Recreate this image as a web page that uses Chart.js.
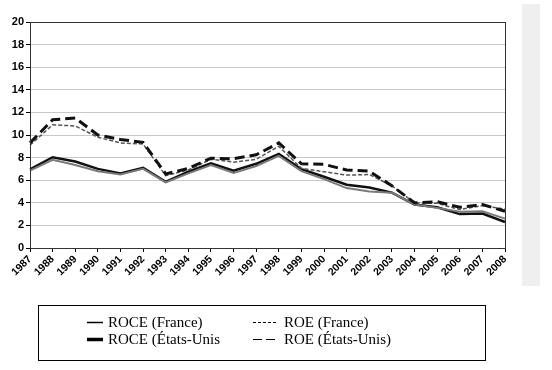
<!DOCTYPE html>
<html>
<head>
<meta charset="utf-8">
<script src="https://cdn.jsdelivr.net/npm/chart.js@4/dist/chart.umd.min.js"></script>
<style>
  html, body { margin: 0; padding: 0; background: #fff; }
  #wrap { position: relative; width: 552px; height: 370px; overflow: hidden; }
  #panel { position: absolute; left: 522px; top: 4px; width: 18px; height: 282px; background: #efefef; }
  #c { position: absolute; left: 0; top: 0; }
  #legend { position: absolute; left: 38px; top: 305px; width: 446px; height: 54px; border: 1px solid #000;
            font-family: 'Liberation Serif', 'Times New Roman', serif; font-size: 15px; color: #000; }
  .item { position: absolute; height: 17px; line-height: 17px; white-space: nowrap; }
  .item svg { position: absolute; top: 0; }
  .item span { position: absolute; top: 0; }
</style>
</head>
<body>
<div id="wrap">
  <div id="panel"></div>
  <canvas id="c" width="552" height="370"></canvas>
  <div id="legend"></div>
</div>
<script>
const years = ['1987','1988','1989','1990','1991','1992','1993','1994','1995','1996','1997','1998','1999','2000','2001','2002','2003','2004','2005','2006','2007','2008'];
const roceFrance = [6.85, 7.8, 7.35, 6.8, 6.5, 7.0, 5.8, 6.6, 7.35, 6.65, 7.25, 8.15, 6.8, 6.1, 5.3, 5.0, 4.9, 3.85, 3.55, 3.2, 3.25, 2.6];
const roeFrance  = [9.1, 10.9, 10.8, 9.8, 9.3, 9.2, 6.4, 6.9, 7.85, 7.6, 7.85, 9.0, 7.05, 6.75, 6.45, 6.5, 5.5, 4.0, 3.95, 3.4, 3.75, 3.45];
const roceUS     = [6.97, 8.03, 7.65, 7.0, 6.6, 7.1, 5.85, 6.75, 7.5, 6.85, 7.45, 8.33, 6.97, 6.3, 5.6, 5.35, 4.9, 3.85, 3.6, 3.0, 3.05, 2.3];
const roeUS      = [9.3, 11.35, 11.5, 10.0, 9.6, 9.35, 6.55, 7.05, 7.95, 7.9, 8.25, 9.3, 7.45, 7.4, 6.9, 6.8, 5.5, 4.0, 4.1, 3.6, 3.85, 3.25];
const yTicks = { min: 0, max: 20, step: 2 };
const seriesLabels = ['ROCE (France)', 'ROE (France)', 'ROCE (États-Unis', 'ROE (États-Unis)'];

const frame = {
  id: 'frame',
  afterDraw(chart) {
    const a = chart.chartArea, ctx = chart.ctx;
    ctx.save();
    ctx.strokeStyle = '#333';
    ctx.lineWidth = 1;
    ctx.strokeRect(Math.round(a.left) + 0.5, Math.round(a.top) + 0.5, Math.round(a.right - a.left), Math.round(a.bottom - a.top));
    ctx.restore();
  }
};

new Chart(document.getElementById('c'), {
  type: 'line',
  data: {
    labels: years,
    datasets: [
      { label: seriesLabels[3], data: roeUS, borderColor: '#111', borderWidth: 3, borderDash: [10, 5], pointRadius: 0, tension: 0, fill: false },
      { label: seriesLabels[1], data: roeFrance, borderColor: '#555', borderWidth: 1.5, borderDash: [4, 2], pointRadius: 0, tension: 0, fill: false },
      { label: seriesLabels[0], data: roceFrance, borderColor: '#7a7a7a', borderWidth: 2, pointRadius: 0, tension: 0, fill: false },
      { label: seriesLabels[2], data: roceUS, borderColor: '#111', borderWidth: 2.5, pointRadius: 0, tension: 0, fill: false }
    ]
  },
  options: {
    responsive: false,
    animation: false,
    layout: { padding: { top: 22, right: 47, bottom: 82, left: 0 } },
    plugins: { legend: { display: false }, tooltip: { enabled: false } },
    scales: {
      x: {
        offset: false,
        afterFit: s => { s.height = 40; },
        grid: { drawOnChartArea: false, drawTicks: true, tickLength: 4, tickColor: '#000' },
        border: { color: '#000', width: 1 },
        ticks: { autoSkip: false, minRotation: 45, maxRotation: 45, padding: 1, color: '#000',
                 font: { family: 'Liberation Sans, Arial, sans-serif', size: 10.5, weight: 'bold' } }
      },
      y: {
        min: yTicks.min, max: yTicks.max,
        afterFit: s => { s.width = 30; },
        grid: { color: '#c8c8c8', lineWidth: 1, drawTicks: true, tickLength: 4, tickColor: '#000' },
        border: { color: '#000', width: 1 },
        ticks: { stepSize: yTicks.step, padding: 2, color: '#000',
                 font: { family: 'Liberation Sans, Arial, sans-serif', size: 11, weight: 'bold' } }
      }
    }
  },
  plugins: [frame]
});

// HTML legend
const legend = document.getElementById('legend');
const items = [
  { text: seriesLabels[0], x: 48, y: 8, w: 16, lw: 1.5, dash: null, tx: 69 },
  { text: seriesLabels[1], x: 214, y: 8, w: 25, lw: 1, dash: '3,2', tx: 245 },
  { text: seriesLabels[2], x: 48, y: 25, w: 16, lw: 3.5, dash: null, tx: 69 },
  { text: seriesLabels[3], x: 214, y: 25, w: 25, lw: 1, dash: '9,4', tx: 245 }
];
items.forEach(it => {
  const d = document.createElement('div');
  d.className = 'item';
  d.style.left = '0px';
  d.style.top = it.y + 'px';
  d.innerHTML = `<svg width="${it.w}" height="17" style="left:${it.x}px"><line x1="0" y1="8.5" x2="${it.w}" y2="8.5" stroke="#000" stroke-width="${it.lw}" ${it.dash ? `stroke-dasharray="${it.dash}"` : ''}/></svg><span style="left:${it.tx}px">${it.text}</span>`;
  legend.appendChild(d);
});
</script>
</body>
</html>
